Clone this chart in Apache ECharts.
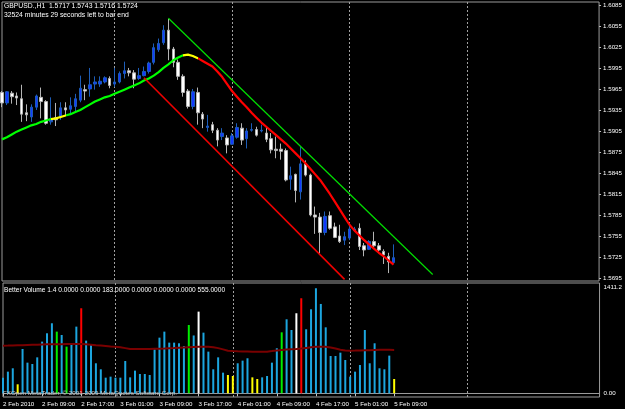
<!DOCTYPE html>
<html>
<head>
<meta charset="utf-8">
<script src="https://cdn.jsdelivr.net/npm/echarts@6/dist/echarts.min.js"></script>
<style>
    html, body { margin: 0; padding: 0; background: #000; }
    #chart { width: 625px; height: 409px; }
</style>
</head>
<body>
<div id="chart"></div>
<script>
// GBPUSD H1, 2 Feb 2010 01:00 .. 5 Feb 09:00 (81 bars)
const opens = [
    1.5960, 1.5945, 1.5959, 1.5955, 1.5951, 1.5931, 1.5925, 1.5939, 1.5953, 1.5947,
    1.5918, 1.5924, 1.5925, 1.5938, 1.5936, 1.5940, 1.5949, 1.5964, 1.5965, 1.5972,
    1.5972, 1.5975, 1.5980, 1.5972, 1.5975, 1.5987, 1.5991, 1.5988, 1.5980, 1.5984,
    1.5990, 1.6003, 1.6021, 1.6031, 1.6049, 1.6022, 1.6003, 1.5983, 1.5962, 1.5940,
    1.5960, 1.5929, 1.5910, 1.5914, 1.5906, 1.5897, 1.5895, 1.5886, 1.5896, 1.5909,
    1.5894, 1.5906, 1.5907, 1.5905, 1.5902, 1.5894, 1.5879, 1.5879, 1.5877, 1.5836,
    1.5843, 1.5818, 1.5858, 1.5842, 1.5785, 1.5782, 1.5760, 1.5784, 1.5768, 1.5755,
    1.5749, 1.5752, 1.5763, 1.5766, 1.5741, 1.5736, 1.5747, 1.5741, 1.5733, 1.5726,
    1.5717
];
const highs = [
    1.5962, 1.5962, 1.5962, 1.5960, 1.5971, 1.5943, 1.5943, 1.5957, 1.5967, 1.5949,
    1.5953, 1.5945, 1.5946, 1.5946, 1.5953, 1.5958, 1.5984, 1.5971, 1.5995, 1.5983,
    1.5983, 1.5983, 1.5983, 1.5995, 1.5990, 1.6004, 1.5995, 1.5992, 1.5995, 1.5997,
    1.6004, 1.6030, 1.6037, 1.6056, 1.6065, 1.6025, 1.6007, 1.5986, 1.5965, 1.5965,
    1.5967, 1.5932, 1.5928, 1.5918, 1.5909, 1.5909, 1.5899, 1.5902, 1.5916, 1.5916,
    1.5909, 1.5916, 1.5911, 1.5914, 1.5910, 1.5902, 1.5897, 1.5887, 1.5880, 1.5854,
    1.5844, 1.5882, 1.5863, 1.5844, 1.5797, 1.5788, 1.5790, 1.5790, 1.5774, 1.5771,
    1.5761, 1.5771, 1.5768, 1.5773, 1.5745, 1.5749, 1.5761, 1.5745, 1.5736, 1.5731,
    1.5743
];
const lows = [
    1.5939, 1.5942, 1.5944, 1.5942, 1.5918, 1.5919, 1.5918, 1.5935, 1.5923, 1.5914,
    1.5914, 1.5912, 1.5921, 1.5928, 1.5928, 1.5933, 1.5946, 1.5949, 1.5954, 1.5964,
    1.5968, 1.5973, 1.5966, 1.5968, 1.5973, 1.5980, 1.5983, 1.5966, 1.5978, 1.5983,
    1.5987, 1.6000, 1.6018, 1.6028, 1.6006, 1.5996, 1.5978, 1.5954, 1.5937, 1.5936,
    1.5914, 1.5909, 1.5904, 1.5902, 1.5883, 1.5892, 1.5873, 1.5885, 1.5894, 1.5885,
    1.5880, 1.5904, 1.5897, 1.5903, 1.5889, 1.5873, 1.5866, 1.5864, 1.5833, 1.5821,
    1.5803, 1.5807, 1.5840, 1.5783, 1.5758, 1.5730, 1.5756, 1.5764, 1.5752, 1.5745,
    1.5742, 1.5749, 1.5761, 1.5735, 1.5726, 1.5735, 1.5737, 1.5733, 1.5715, 1.5702,
    1.5716
];
const closes = [
    1.5945, 1.5961, 1.5954, 1.5952, 1.5929, 1.5928, 1.5939, 1.5955, 1.5947, 1.5916,
    1.5922, 1.5921, 1.5938, 1.5935, 1.5941, 1.5951, 1.5966, 1.5962, 1.5971, 1.5975,
    1.5976, 1.5981, 1.5970, 1.5975, 1.5987, 1.5991, 1.5988, 1.5979, 1.5984, 1.5990,
    1.6002, 1.6024, 1.6030, 1.6049, 1.6022, 1.6003, 1.5983, 1.5960, 1.5940, 1.5961,
    1.5931, 1.5922, 1.5912, 1.5906, 1.5892, 1.5902, 1.5885, 1.5898, 1.5910, 1.5892,
    1.5905, 1.5907, 1.5899, 1.5906, 1.5893, 1.5878, 1.5877, 1.5876, 1.5835, 1.5841,
    1.5820, 1.5858, 1.5842, 1.5785, 1.5782, 1.5760, 1.5783, 1.5766, 1.5753, 1.5747,
    1.5754, 1.5765, 1.5765, 1.5740, 1.5735, 1.5747, 1.5741, 1.5735, 1.5728, 1.5718,
    1.5724
];
// slope-coloured moving average
const maValues = [
    1.5893, 1.5896, 1.5900, 1.5904, 1.5907, 1.5910, 1.5913, 1.5915, 1.5918, 1.5920,
    1.5922, 1.5923, 1.5925, 1.5927, 1.5929, 1.5932, 1.5935, 1.5939, 1.5943, 1.5947,
    1.5950, 1.5953, 1.5955, 1.5958, 1.5961, 1.5964, 1.5967, 1.5970, 1.5973, 1.5977,
    1.5980, 1.5984, 1.5989, 1.5995, 1.6000, 1.6006, 1.6010, 1.6013, 1.6014, 1.6012,
    1.6009, 1.6005, 1.6001, 1.5997, 1.5990, 1.5982, 1.5972, 1.5962, 1.5954, 1.5946,
    1.5939, 1.5931, 1.5924, 1.5917, 1.5911, 1.5905, 1.5899, 1.5893, 1.5887, 1.5880,
    1.5873, 1.5866, 1.5859, 1.5851, 1.5843, 1.5835, 1.5825, 1.5815, 1.5804, 1.5793,
    1.5782, 1.5771, 1.5763, 1.5756, 1.5749, 1.5743, 1.5737, 1.5731, 1.5726, 1.5720,
    1.5714
];
// bar index where the MA turns flat (yellow) / falling (red)
const maFlat = [[10, 13], [37, 40]];
const maFallFrom = 40;
// trend channel lines: [bar index, price]
const upperChannel = [[34, 1.6066], [88, 1.5700]];
const lowerChannel = [[29, 1.5981], [70, 1.5693]];

// Better Volume 1.4
const volumes = [
    200, 277, 320, 115, 567, 392, 375, 460, 661, 768,
    896, 789, 746, 597, 631, 853, 1088, 674, 631, 384,
    307, 200, 213, 200, 200, 413, 204, 290, 247, 247,
    234, 563, 712, 789, 648, 648, 640, 605, 874, 740,
    1045, 776, 533, 307, 460, 264, 234, 221, 384, 418,
    448, 204, 183, 204, 221, 392, 576, 780, 947, 810,
    1024, 1216, 819, 1075, 1344, 1143, 844, 477, 477, 520,
    426, 213, 277, 362, 810, 384, 640, 320, 307, 482,
    183
];
// b normal, y low volume, g high churn, r climax up, w climax down
const volKind =
    "bbbybbbbbb" + "bgbgbbrbbb" + "bbbbbbbbbb" + "bbbbbbbbgb" +
    "wbbbbbyybb" + "byybbbbgbb" + "wrbbbbbbbb" + "bbbbbbbbbb" + "y";
const volAverage = [
    609, 610, 612, 614, 616, 618, 620, 622, 624, 626,
    627, 628, 629, 630, 630, 631, 631, 628, 622, 615,
    610, 605, 600, 597, 588, 578, 567, 566, 566, 567,
    568, 569, 570, 572, 575, 578, 582, 586, 590, 593,
    595, 597, 597, 590, 578, 562, 545, 540, 537, 535,
    534, 533, 533, 533, 533, 540, 548, 555, 560, 564,
    567, 572, 580, 588, 594, 597, 595, 585, 572, 558,
    548, 545, 546, 548, 550, 552, 554, 556, 557, 556,
    555
];

const priceTicks = [1.5695, 1.5725, 1.5755, 1.5785, 1.5815, 1.5845, 1.5875,
    1.5905, 1.5935, 1.5965, 1.5995, 1.6025, 1.6055, 1.6085];
const volTicks = [0, 1411.2];

// hourly slots, with empty room on the right like the terminal
const slotCount = 123;
const months = ["Jan", "Feb"];
const categories = [];
const hours = [];
for (let i = 0; i < slotCount; i++) {
    const t = new Date(Date.UTC(2010, 1, 2, 1 + i));
    hours.push(t.getUTCHours());
    categories.push(t.getUTCDate() + " " + months[t.getUTCMonth()] + " " +
        String(t.getUTCHours()).padStart(2, "0") + ":00");
}

const volColors = { b: "#1ca6df", y: "#ffff00", g: "#00ee00", r: "#ff0000", w: "#ffffff" };
const FONT = "Liberation Sans";
const isLabelBar = (i) => i < opens.length && hours[i] % 8 === 1;
const isDayStart = (i) => i < 100 && hours[i] === 0;

const candles = opens.map((o, i) => [o, closes[i], lows[i], highs[i]]);
const volData = volumes.map((v, i) => ({
    value: v,
    itemStyle: { color: volColors[volKind[i]] },
}));

const maPieces = [{ lt: maFlat[0][0], color: "#00ff00" }];
maPieces.push({ gte: maFlat[0][0], lt: maFlat[0][1], color: "#ffff00" });
maPieces.push({ gte: maFlat[0][1], lt: maFlat[1][0], color: "#00ff00" });
maPieces.push({ gte: maFlat[1][0], lt: maFallFrom, color: "#ffff00" });
maPieces.push({ gte: maFallFrom, color: "#ff0000" });

const chart = echarts.init(document.getElementById("chart"), null, { renderer: "canvas" });

const txt = (size, color) => ({ color: color, fontSize: size, fontWeight: "normal", fontFamily: FONT });

const option = {
    backgroundColor: "#000000",
    animation: false,
    textStyle: { fontFamily: FONT },
    title: [
        { text: "GBPUSD.,H1  1.5717 1.5743 1.5716 1.5724", left: 4, top: 3, padding: 0, textStyle: txt(6.8, "#ffffff") },
        { text: "32524 minutes 29 seconds left to bar end", left: 4, top: 12, padding: 0, textStyle: txt(6.8, "#ffffff") },
        {
            text: "Better Volume 1.4 0.0000 0.0000 183.0000 0.0000 0.0000 0.0000 555.0000",
            left: 4, top: 287, padding: 0, textStyle: txt(6.6, "#ffffff"),
        },
        {
            text: "FXOpen MetaTrader, © 2001-2009 MetaQuotes Software Corp.",
            left: 3, top: 390, padding: 0, textStyle: txt(6.2, "#c8c8c8"),
        },
    ],
    visualMap: [
        { show: false, type: "piecewise", seriesIndex: 1, dimension: 0, pieces: maPieces },
    ],
    grid: [
        { left: 2, top: 2, width: 600, height: 279, show: true, borderColor: "#9a9a9a", borderWidth: 1 },
        { left: 2, top: 283, width: 600, height: 114, show: true, borderColor: "#9a9a9a", borderWidth: 1 },
    ],
    xAxis: [
        {
            type: "category", gridIndex: 0, data: categories, boundaryGap: false,
            axisLine: { show: false }, axisTick: { show: false }, axisLabel: { show: false },
            splitLine: {
                show: true, interval: (i) => isDayStart(i),
                lineStyle: { color: "#a0a0a0", type: [2, 2], width: 1 },
            },
        },
        {
            type: "category", gridIndex: 1, data: categories, boundaryGap: false,
            axisLine: { show: true, lineStyle: { color: "#9a9a9a" } },
            axisTick: {
                show: true, interval: (i) => isLabelBar(i), length: 3,
                lineStyle: { color: "#c0c0c0" },
            },
            axisLabel: {
                show: true, interval: (i) => isLabelBar(i),
                color: "#ffffff", fontSize: 6.2, fontFamily: FONT, align: "left", margin: 4,
                formatter: (v, i) => (i === 0 ? "2 Feb 2010" : v),
            },
            splitLine: {
                show: true, interval: (i) => isDayStart(i),
                lineStyle: { color: "#a0a0a0", type: [2, 2], width: 1 },
            },
        },
    ],
    yAxis: [
        {
            type: "value", gridIndex: 0, position: "right", scale: true,
            min: 1.56907, max: 1.60892,
            axisLine: { show: false },
            axisTick: { show: true, customValues: priceTicks, length: 2, lineStyle: { color: "#c0c0c0" } },
            axisLabel: {
                show: true, customValues: priceTicks, color: "#ffffff", fontSize: 6.2,
                fontFamily: FONT, margin: 4, formatter: (v) => v.toFixed(4),
            },
            splitLine: { show: false },
        },
        {
            type: "value", gridIndex: 1, position: "right",
            min: -47.4, max: 1411.2,
            axisLine: { show: false },
            axisTick: { show: false },
            axisLabel: {
                show: true, customValues: volTicks, color: "#ffffff", fontSize: 6.2,
                fontFamily: FONT, margin: 4,
                formatter: (v) => (v === 0 ? "{b|0.00}" : "{t|" + v.toFixed(1) + "}"),
                rich: {
                    t: { padding: [8, 0, 0, 0], fontSize: 6.2, color: "#ffffff" },
                    b: { fontSize: 6.2, color: "#ffffff" },
                },
            },
            splitLine: { show: false },
        },
    ],
    series: [
        {
            name: "GBPUSD", type: "candlestick", xAxisIndex: 0, yAxisIndex: 0,
            data: candles, barWidth: 3,
            itemStyle: {
                color: "#1438ff", borderColor: "#1d5db8",
                color0: "#ffffff", borderColor0: "#b4b4b4", borderWidth: 1,
            },
            markLine: {
                symbol: "none", silent: true,
                lineStyle: { opacity: 0 },
                label: {
                    position: "end", distance: 3, color: "#000", backgroundColor: "#ffffff",
                    fontSize: 6.2, fontFamily: FONT, padding: [1, 2, 0, 2],
                    formatter: (p) => p.value.toFixed(4),
                },
                data: [{ yAxis: closes[closes.length - 1] }],
            },
        },
        {
            name: "MA", type: "line", xAxisIndex: 0, yAxisIndex: 0,
            data: maValues, showSymbol: false, lineStyle: { width: 2.2 }, z: 3,
        },
        {
            name: "Upper", type: "line", xAxisIndex: 0, yAxisIndex: 0,
            data: upperChannel, showSymbol: false, lineStyle: { width: 1.2, color: "#00e000" },
        },
        {
            name: "Lower", type: "line", xAxisIndex: 0, yAxisIndex: 0,
            data: lowerChannel, showSymbol: false, lineStyle: { width: 1.6, color: "#ee0000" },
        },
        {
            name: "Volume", type: "bar", xAxisIndex: 1, yAxisIndex: 1,
            data: volData, barWidth: 2,
        },
        {
            name: "VolAvg", type: "line", xAxisIndex: 1, yAxisIndex: 1,
            data: volAverage, showSymbol: false, lineStyle: { width: 2, color: "#7a0000" },
        },
    ],
};

chart.setOption(option);
</script>
</body>
</html>
